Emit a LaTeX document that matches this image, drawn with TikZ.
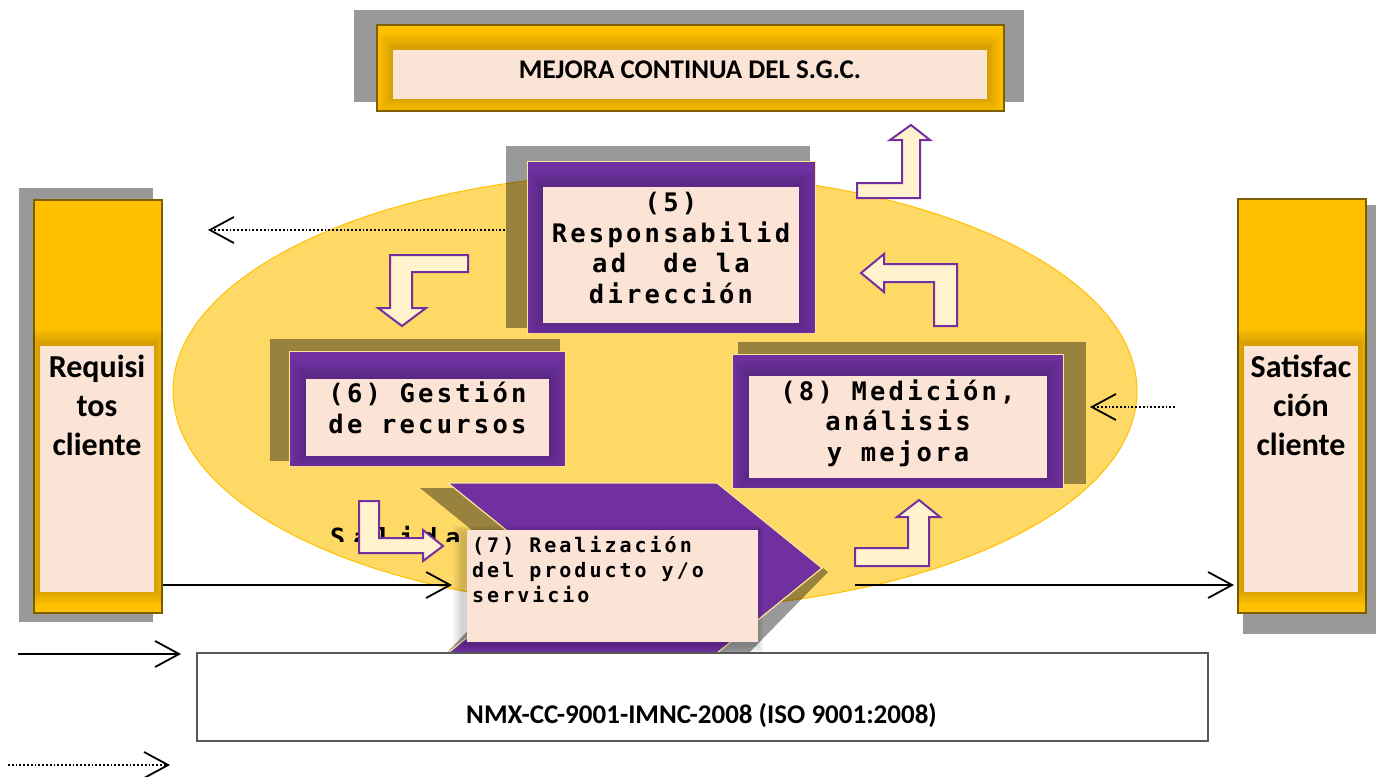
\documentclass[tikz,border=0pt]{standalone}
\usepackage{fontspec}
\setmainfont{Carlito}
\newfontfamily\stepfont{DejaVu Sans Mono Bold}[LetterSpace=12.7]
\newfontfamily\smallstepfont{DejaVu Sans Mono Bold}[LetterSpace=15]
\newfontfamily\widefont{DejaVu Sans Mono Bold}[LetterSpace=32]
\usetikzlibrary{arrows.meta,calc}

\definecolor{sgcAmber}{HTML}{FFC000}
\definecolor{sgcEdge}{HTML}{7F6000}
\definecolor{sgcBlush}{HTML}{FBE3D6}
\definecolor{sgcViolet}{HTML}{7030A0}
\definecolor{sgcRim}{HTML}{FFE699}
\definecolor{sgcOval}{HTML}{FFD966}
\definecolor{sgcCream}{HTML}{FFF2CC}
\definecolor{sgcFrame}{HTML}{595959}

% soft darkening inside a frame, around its inner light panel
\newcommand{\innerglow}[5]{%
  \begin{scope}
    \clip (#1.north west) rectangle (#1.south east);
    \foreach \k in {1,...,8}
      \fill[black, opacity=0.018] ({#2-1.8*\k},{#3-1.8*\k-2}) rectangle ({#4+1.8*\k},{#5+1.8*\k-2});
  \end{scope}}

\begin{document}
\begin{tikzpicture}[x=1pt,y=-1pt,
  shadowfill/.style={fill=black, fill opacity=0.4, draw=none},
  amberbox/.style={draw=sgcEdge, line width=2.2pt, fill=sgcAmber, inner sep=0pt, anchor=north west},
  blushbox/.style={fill=sgcBlush, draw=none, inner sep=0pt, anchor=north west},
  violetbox/.style={draw=sgcRim, line width=1.2pt, fill=sgcViolet, inner sep=0pt, anchor=north west},
  bentarrow/.style={draw=sgcViolet, line width=2pt, fill=sgcCream, line join=miter},
  solidflow/.style={line width=1.8pt, -{Straight Barb[length=24pt,width=26pt]}},
  dottedflow/.style={solidflow, dotted},
  boldlabel/.style={font=\bfseries\fontsize{27}{32}\selectfont, inner sep=0pt, anchor=base},
  sidelabel/.style={font=\bfseries\fontsize{32}{39}\selectfont, inner sep=0pt, anchor=base, align=center},
  steptext/.style={font=\stepfont\fontsize{25.5}{30.4}\selectfont, align=center, inner sep=0pt, anchor=base},
]
\useasboundingbox (0,0) rectangle (1380,776);

% ---------- outer frames: continual improvement, requirements, satisfaction
\fill[shadowfill] (354,10) rectangle (1024,102);
\fill[shadowfill] (19,188) rectangle (153,622);
\fill[shadowfill] (1243,205) rectangle (1376,634);

\node[amberbox, minimum width=627pt, minimum height=86pt] (mejora) at (376,24) {};
\innerglow{mejora}{393}{50}{987}{99}
\node[blushbox, minimum width=594pt, minimum height=49pt] (mejorapanel) at (393,50) {};
\node[boldlabel] (mejoratext) at (690,78) {MEJORA CONTINUA DEL S.G.C.};

\node[amberbox, minimum width=128pt, minimum height=413pt] (req) at (33,199) {};
\innerglow{req}{40}{346}{154}{592}
\node[blushbox, minimum width=114pt, minimum height=246pt] (reqpanel) at (40,346) {};
\node[sidelabel] (reqtext) at (97,455) {Requisi\\tos\\cliente};

\node[amberbox, minimum width=128pt, minimum height=414pt] (sat) at (1237,198) {};
\innerglow{sat}{1244}{346}{1358}{592}
\node[blushbox, minimum width=114pt, minimum height=246pt] (satpanel) at (1244,346) {};
\node[sidelabel] (sattext) at (1301,455) {Satisfac\\ción\\cliente};

% ---------- process oval
\fill[sgcOval, draw=sgcAmber, line width=1pt] (655,391) ellipse [x radius=482, y radius=218];

% feedback towards the requirements
\coordinate (fbstart) at (505,230);
\coordinate (fbend) at (208,230);
\draw[dottedflow] (fbstart) -- (fbend);

% ---------- cast shadows of the process boxes
\fill[shadowfill] (506,146) rectangle (810,328);
\fill[shadowfill] (270,339) rectangle (560,461);
\fill[shadowfill] (738,342) rectangle (1086,484);

% partly hidden word beside the realization arrow
\begin{scope}
  \clip (320,515) rectangle (470,541);
  \node[font=\widefont\fontsize{25}{30}\selectfont, inner sep=0pt, anchor=base west] (salida) at (330,546) {Salida};
\end{scope}

\fill[shadowfill] (420,488) -- (720,488) -- (828,572) -- (740,662) -- (438,662) -- (524,572) -- cycle;

% ---------- (5) management responsibility
\node[violetbox, minimum width=288pt, minimum height=172pt] (resp) at (527,161) {};
\innerglow{resp}{543}{187}{799}{323}
\node[blushbox, minimum width=256pt, minimum height=136pt] (resppanel) at (543,187) {};
\node[steptext] (resptext) at (671,303) {(5)\\Responsabilid\\ad\ \ de la\\dirección};

% ---------- (6) resource management
\node[violetbox, minimum width=276pt, minimum height=115pt] (recursos) at (289,351) {};
\innerglow{recursos}{306}{379}{549}{456}
\node[blushbox, minimum width=243pt, minimum height=77pt] (recursospanel) at (306,379) {};
\node[steptext] (recursostext) at (427.5,433) {(6) Gestión\\de recursos};

% ---------- (8) measurement, analysis and improvement
\node[violetbox, minimum width=331pt, minimum height=134pt] (medicion) at (732,354) {};
\innerglow{medicion}{749}{376}{1047}{478}
\node[blushbox, minimum width=298pt, minimum height=102pt] (medicionpanel) at (749,376) {};
\node[steptext] (mediciontext) at (898,461) {(8) Medición,\\análisis\\y mejora};

% ---------- (7) product realization chevron
\draw[fill=sgcViolet, draw=sgcRim, line width=1.2pt, line join=miter]
  (448,483) -- (717,483) -- (822,568) -- (717,653) -- (448,653) -- (553,568) -- cycle;
\foreach \k in {1,...,6}
  \fill[black, opacity=0.03] ({463-1.6*\k},{533-1.2*\k}) rectangle ({756+1.2*\k},{644+1.4*\k});
\node[blushbox, minimum width=291pt, minimum height=112pt] (realizacion) at (467,530) {};
\node[font=\smallstepfont\fontsize{20}{25}\selectfont, align=left, inner sep=0pt, anchor=base west]
  (realizaciontext) at (472,602) {(7) Realización\\del producto y/o\\servicio};

% ---------- bent block arrows of the cycle
\draw[bentarrow] (390,255) -- (468,255) -- (468,272) -- (412,272) -- (412,308) -- (426,308)
  -- (402,326) -- (378,308) -- (390,308) -- cycle;
\draw[bentarrow] (857,183) -- (902,183) -- (902,140) -- (890,140) -- (911,125) -- (930,140)
  -- (920,140) -- (920,198) -- (857,198) -- cycle;
\draw[bentarrow] (861,273) -- (884,254) -- (884,264) -- (957,264) -- (957,326) -- (934,326)
  -- (934,282) -- (884,282) -- (884,292) -- cycle;
\draw[bentarrow] (359,501) -- (379,501) -- (379,538) -- (423,538) -- (423,530) -- (443,546)
  -- (423,561) -- (423,553) -- (359,553) -- cycle;
\draw[bentarrow] (855,548) -- (908,548) -- (908,517) -- (897,517) -- (919,500) -- (940,517)
  -- (929,517) -- (929,566) -- (855,566) -- cycle;

% ---------- product flow
\coordinate (in7) at (452,585);
\coordinate (out7) at (855,585);
\draw[solidflow] (req.east |- in7) -- (in7);
\draw[solidflow, shorten >=3pt] (out7) -- (sat.west |- out7);

% information from customer satisfaction
\coordinate (satinfo) at (1175,407);
\coordinate (satinfoend) at (1090,407);
\draw[dottedflow] (satinfo) -- (satinfoend);

% ---------- standard reference
\node[draw=sgcFrame, line width=1.5pt, fill=white, minimum width=1011pt, minimum height=88pt,
  inner sep=0pt, anchor=north west] (norma) at (196,652) {};
\node[boldlabel] (normatext) at (701.5,723) {NMX-CC-9001-IMNC-2008 (ISO 9001:2008)};

% ---------- key
\coordinate (keysolidA) at (18,654);
\coordinate (keysolidB) at (181,654);
\coordinate (keydotA) at (8,765);
\coordinate (keydotB) at (170,765);
\draw[solidflow] (keysolidA) -- (keysolidB);
\draw[dottedflow] (keydotA) -- (keydotB);
\end{tikzpicture}
\end{document}
